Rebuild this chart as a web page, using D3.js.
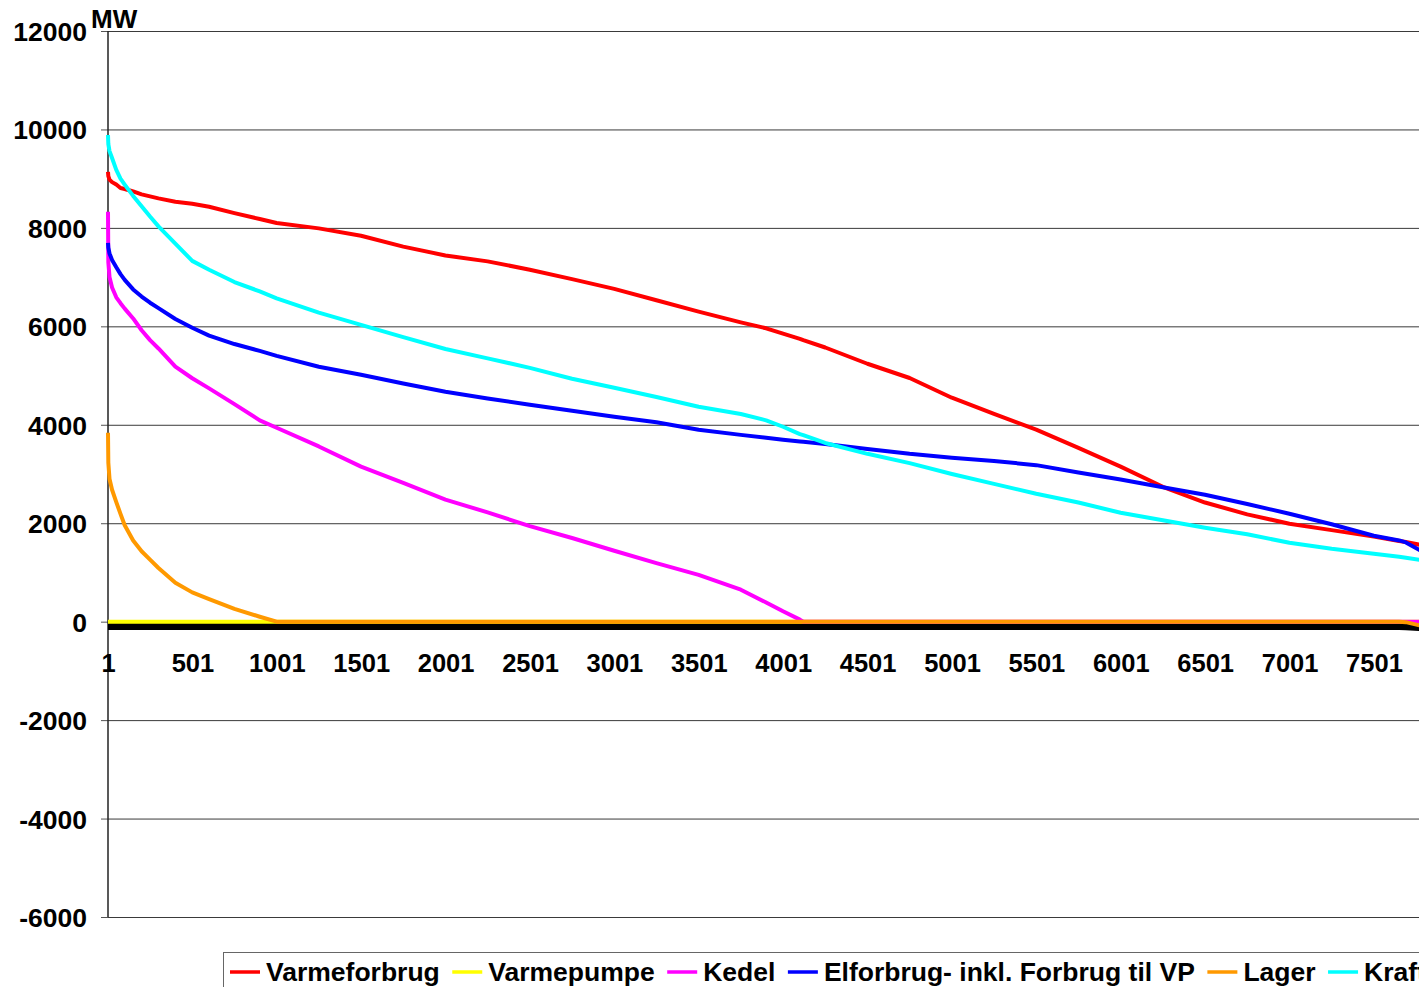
<!DOCTYPE html>
<html><head><meta charset="utf-8">
<script src="https://cdn.jsdelivr.net/npm/d3@7"></script>
<style>
html,body{margin:0;padding:0;background:#fff}
svg{display:block}
text{font-family:"Liberation Sans",Arial,sans-serif;font-weight:bold;fill:#000}
</style>
</head><body>
<svg id="c" width="1426" height="987"></svg>
<script>
// ---- Data ----
const hours = [1, 3, 10, 25, 50, 75, 100, 150, 200, 250, 300, 400, 500, 600, 750, 900, 1000, 1250, 1500, 1750, 2000, 2250, 2500, 2750, 3000, 3250, 3500, 3750, 3900, 4000, 4100, 4120, 4250, 4500, 4750, 5000, 5250, 5500, 5750, 6000, 6250, 6500, 6750, 7000, 7250, 7500, 7650, 7690, 7790];

const varmeforbrug = [9137, 9050, 8980, 8930, 8880, 8810, 8790, 8740, 8680, 8640, 8600, 8530, 8490, 8430, 8300, 8180, 8100, 7990, 7840, 7620, 7440, 7320, 7150, 6960, 6760, 6530, 6300, 6080, 5960, 5850, 5746, 5720, 5570, 5240, 4950, 4550, 4220, 3900, 3530, 3150, 2740, 2420, 2180, 1990, 1860, 1730, 1640, 1620, 1550];

const varmepumpe = [0, 0, 0, 0, 0, 0, 0, 0, 0, 0, 0, 0, 0, 0, 0, 0, 0, 0, 0, 0, 0, 0, 0, 0, 0, 0, 0, 0, 0, 0, 0, 0, 0, 0, 0, 0, 0, 0, 0, 0, 0, 0, 0, 0, 0, 0, 0, 0, 0];

const kedel = [8330, 7300, 7000, 6790, 6590, 6470, 6360, 6160, 5920, 5720, 5550, 5180, 4945, 4740, 4420, 4090, 3940, 3560, 3150, 2820, 2480, 2220, 1940, 1700, 1440, 1190, 950, 650, 390, 210, 41, 0, 0, 0, 0, 0, 0, 0, 0, 0, 0, 0, 0, 0, 0, 0, 0, 0, 0];

const elforbrug = [7695, 7600, 7480, 7350, 7200, 7060, 6944, 6750, 6605, 6480, 6370, 6150, 5970, 5810, 5640, 5500, 5400, 5180, 5015, 4840, 4670, 4535, 4406, 4285, 4162, 4050, 3898, 3795, 3735, 3695, 3662, 3655, 3610, 3510, 3410, 3330, 3265, 3180, 3030, 2890, 2730, 2579, 2390, 2193, 1980, 1746, 1650, 1610, 1420];

const lager = [3838, 3228, 2900, 2680, 2430, 2190, 1960, 1650, 1430, 1260, 1090, 790, 595, 460, 260, 100, 0, 0, 0, 0, 0, 0, 0, 0, 0, 0, 0, 0, 0, 0, 0, 0, 0, 0, 0, 0, 0, 0, 0, 0, 0, 0, 0, 0, 0, 0, 0, -10, -90];

const kraft = [9888, 9700, 9560, 9420, 9180, 9000, 8880, 8650, 8440, 8230, 8030, 7680, 7330, 7150, 6900, 6710, 6570, 6280, 6030, 5780, 5540, 5350, 5157, 4935, 4751, 4565, 4365, 4220, 4090, 3960, 3810, 3790, 3630, 3410, 3220, 3000, 2800, 2599, 2420, 2213, 2060, 1909, 1775, 1604, 1480, 1381, 1320, 1300, 1245];

// seventh series (legend entry cut off in the reference), drawn black
const serie7 = [-99, -99, -99, -99, -99, -99, -99, -99, -99, -99, -99, -99, -99, -99, -99, -99, -99, -99, -99, -99, -99, -99, -99, -99, -99, -99, -99, -99, -99, -99, -99, -99, -99, -99, -99, -99, -99, -99, -99, -99, -99, -99, -99, -99, -99, -99, -99, -105, -120];

const yTicks = [-6000, -4000, -2000, 0, 2000, 4000, 6000, 8000, 10000, 12000];
const xTicks = [1, 501, 1001, 1501, 2001, 2501, 3001, 3501, 4001, 4501, 5001, 5501, 6001, 6501, 7001, 7501];
const legendNames = ["Varmeforbrug", "Varmepumpe", "Kedel", "Elforbrug- inkl. Forbrug til VP", "Lager", "Kraft"];
const unitLabel = "MW";

// ---- Drawing ----
const colors = {
  varmeforbrug: "#FF0000", varmepumpe: "#FFFF00", kedel: "#FF00FF",
  elforbrug: "#0000FF", lager: "#FF9900", kraft: "#00FFFF", serie7: "#000000"
};

const svg = d3.select("#c");
svg.append("defs").append("clipPath").attr("id", "clip")
  .append("rect").attr("x", 0).attr("y", 0).attr("width", 1419).attr("height", 987);
const g = svg.append("g").attr("clip-path", "url(#clip)");

const x = d3.scaleLinear().domain([1, 8760]).range([108, 1586.5]);
const y = d3.scaleLinear().domain([-6000, 12000]).range([917, 31]);
const plotW = x.range()[1] - x.range()[0];
const fmt = d => String(d);

// gridlines + y labels
const yAx = g.append("g").attr("transform", "translate(108,0)")
  .call(d3.axisLeft(y).tickValues(yTicks).tickSizeInner(-plotW).tickSizeOuter(0).tickPadding(21).tickFormat(fmt));
yAx.select(".domain").remove();
yAx.selectAll(".tick line").attr("stroke", "#3a3a3a").attr("stroke-width", 1);
yAx.selectAll(".tick text").attr("font-size", 26.5).attr("font-family", "Liberation Sans, Arial, sans-serif")
  .attr("font-weight", "bold").attr("fill", "#000").attr("dy", "0.36em");

// small outer tick marks on the left
const yTickMarks = g.append("g").attr("transform", "translate(108,0)")
  .call(d3.axisLeft(y).tickValues(yTicks).tickSize(7).tickFormat(""));
yTickMarks.select(".domain").remove();
yTickMarks.selectAll(".tick line").attr("stroke", "#555").attr("stroke-width", 1);

// y axis line
g.append("line").attr("x1", 108).attr("x2", 108).attr("y1", y(12000)).attr("y2", y(-6000))
  .attr("stroke", "#222").attr("stroke-width", 1.5);

// series
const data = hours.map((h, i) => ({h, i}));
const lineFor = arr => d3.line().x(d => x(d.h)).y(d => y(arr[d.i]));
const order = [
  ["serie7", serie7, 7],
  ["varmeforbrug", varmeforbrug, 4],
  ["varmepumpe", varmepumpe, 4],
  ["kedel", kedel, 4],
  ["elforbrug", elforbrug, 4],
  ["lager", lager, 4],
  ["kraft", kraft, 4]
];
order.forEach(([key, arr, w]) => {
  g.append("path").datum(data)
    .attr("d", lineFor(arr))
    .attr("fill", "none")
    .attr("stroke", colors[key])
    .attr("stroke-width", w)
    .attr("stroke-linejoin", "round");
});

// x axis labels at the zero line
const xAx = g.append("g").attr("transform", `translate(0,${y(0)})`)
  .call(d3.axisBottom(x).tickValues(xTicks).tickSize(0).tickPadding(32).tickFormat(fmt));
xAx.select(".domain").remove();
xAx.selectAll(".tick text").attr("font-size", 25.5).attr("font-family", "Liberation Sans, Arial, sans-serif")
  .attr("font-weight", "bold").attr("fill", "#000");

// unit label
g.append("text").attr("x", 91).attr("y", 28).attr("font-size", 26).text(unitLabel);

// legend
const legendKeys = ["varmeforbrug", "varmepumpe", "kedel", "elforbrug", "lager", "kraft"];
const lg = g.append("g");
lg.append("rect").attr("x", 223.5).attr("y", 952.5).attr("width", 1500).attr("height", 50)
  .attr("fill", "#fff").attr("stroke", "#666").attr("stroke-width", 1);
let cx = 230;
legendNames.forEach((name, i) => {
  lg.append("line").attr("x1", cx).attr("x2", cx + 30).attr("y1", 972).attr("y2", 972)
    .attr("stroke", colors[legendKeys[i]]).attr("stroke-width", 3.5);
  const t = lg.append("text").attr("x", cx + 36).attr("y", 981).attr("font-size", 26.5).text(name);
  const w = t.node().getComputedTextLength();
  cx = cx + 36 + w + 12.5;
});
</script>
</body></html>
